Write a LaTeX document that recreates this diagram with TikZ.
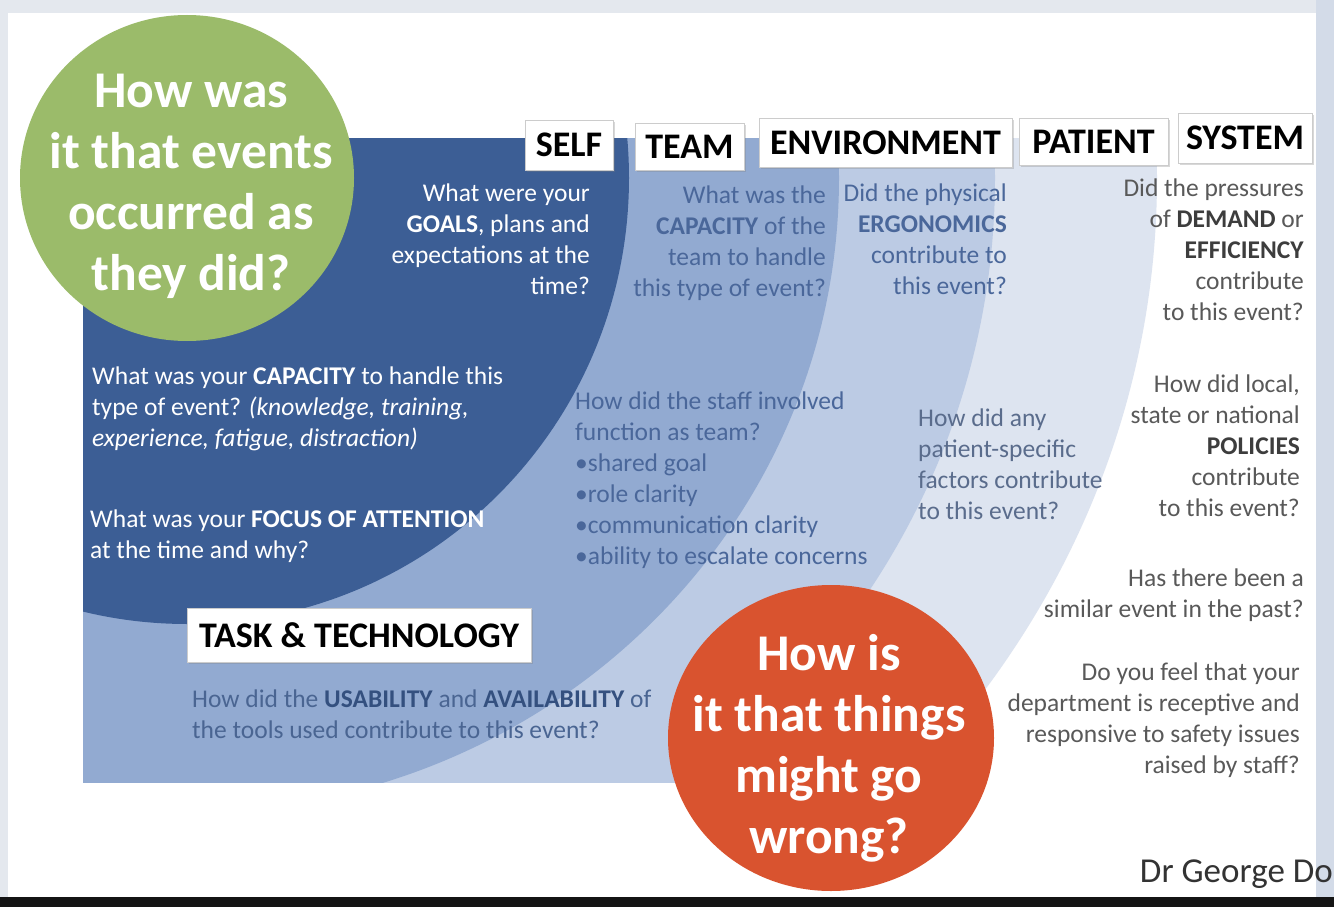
\documentclass[tikz,border=0pt]{standalone}
\usepackage{fontspec}
\setmainfont{Carlito}
\usetikzlibrary{shadows}
\definecolor{framegray}{HTML}{E4E8EE}
\definecolor{rightstrip}{HTML}{D3DBE8}
\definecolor{darkband}{HTML}{3C5E95}
\definecolor{bandtwo}{HTML}{92AAD1}
\definecolor{bandthree}{HTML}{BCCBE4}
\definecolor{bandfour}{HTML}{DDE4F0}
\definecolor{greenc}{HTML}{9BBB6A}
\definecolor{redc}{HTML}{D9532F}
\definecolor{teamtxt}{HTML}{4A679A}
\definecolor{pattxt}{HTML}{5A6C8C}
\definecolor{systxt}{HTML}{595959}
\definecolor{sysbold}{HTML}{3D3D3D}
\definecolor{tasktxt}{HTML}{4A6592}
\definecolor{taskbold}{HTML}{34507F}
\tikzset{
  hdr/.style={draw=gray!40, line width=0.6pt, fill=white, text=black,
    font=\fontsize{36}{40}\selectfont\bfseries, inner sep=0pt,
    drop shadow={shadow xshift=2pt, shadow yshift=-2pt, opacity=0.3}},
  body/.style={font=\fontsize{25.5}{31}\selectfont, inner sep=0pt},
  bigq/.style={font=\fontsize{51.5}{61}\selectfont\bfseries, text=white, align=center, inner sep=0pt}
}
\begin{document}
\begin{tikzpicture}[x=1pt,y=-1pt]
\useasboundingbox (0,0) rectangle (1334,907);
% frame and slide
\fill[framegray] (0,0) rectangle (1334,907);
\fill[white] (8,13) rectangle (1316,897);
\fill[rightstrip] (1316,0) rectangle (1334,897);
% concentric bands around the green circle centre
\begin{scope}
  \clip (83,138) rectangle (1316,782);
  \fill[bandfour]  (187,178) ellipse [x radius=970, y radius=900];
  \fill[bandthree] (187,178) ellipse [x radius=808, y radius=770];
  \fill[bandtwo]   (187,178) ellipse [x radius=652, y radius=634];
  \fill[darkband]  (187,178) ellipse [x radius=442, y radius=446];
\end{scope}
% circles
\fill[greenc] (187,178) ellipse [x radius=167, y radius=163];
\fill[redc] (831,738) ellipse [x radius=163, y radius=153];
\node[bigq] (greenq) at (191,186) {How was\\it that events\\occurred as\\they did?};
\node[bigq] (redq) at (829,748) {How is\\it that things\\might go\\wrong?};
% headers
\node[hdr, minimum width=88pt, minimum height=50pt] (self) at (569,145) {SELF};
\node[hdr, minimum width=109pt, minimum height=47pt] (team) at (689.5,146.5) {TEAM};
\node[hdr, minimum width=253pt, minimum height=49pt] (env) at (885.5,142.5) {ENVIRONMENT};
\node[hdr, minimum width=149pt, minimum height=47pt] (patient) at (1093.5,141.5) {PATIENT};
\node[hdr, minimum width=134pt, minimum height=50pt] (system) at (1245,138) {SYSTEM};
\node[hdr, minimum width=344pt, minimum height=54pt] (task) at (359,635) {TASK \& TECHNOLOGY};
% self texts
\node[body, text=white, align=right, anchor=north east] (goals) at (590,184) {What were your\\\textbf{GOALS}, plans and\\expectations at the\\time?};
\node[body, text=white, align=left, anchor=north west] (selfcap) at (92,367) {What was your \textbf{CAPACITY} to handle this\\type of event? \textit{(knowledge, training,}\\\textit{experience, fatigue, distraction)}};
\node[body, text=white, align=left, anchor=north west] (focus) at (90,510) {What was your \textbf{FOCUS OF ATTENTION}\\at the time and why?};
% team texts
\node[body, text=teamtxt, align=right, anchor=north east] (teamcap) at (826,186) {What was the\\\textbf{CAPACITY} of the\\team to handle\\this type of event?};
\node[body, text=teamtxt, align=left, anchor=north west] (teamfn) at (575,392) {How did the staff involved\\function as team?\\•shared goal\\•role clarity\\•communication clarity\\•ability to escalate concerns};
% environment
\node[body, text=teamtxt, align=right, anchor=north east] (ergo) at (1007,184) {Did the physical\\\textbf{ERGONOMICS}\\contribute to\\this event?};
% patient
\node[body, text=pattxt, align=left, anchor=north west] (patq) at (918,409) {How did any\\patient-specific\\factors contribute\\to this event?};
% system
\node[body, text=systxt, align=right, anchor=north east] (sysa) at (1304,179) {Did the pressures\\of \textcolor{sysbold}{\textbf{DEMAND}} or\\\textcolor{sysbold}{\textbf{EFFICIENCY}}\\contribute\\to this event?};
\node[body, text=systxt, align=right, anchor=north east] (sysb) at (1300,375) {How did local,\\state or national\\\textcolor{sysbold}{\textbf{POLICIES}}\\contribute\\to this event?};
\node[body, text=systxt, align=right, anchor=north east] (sysc) at (1304,569) {Has there been a\\similar event in the past?};
\node[body, text=systxt, align=right, anchor=north east] (sysd) at (1300,663) {Do you feel that your\\department is receptive and\\responsive to safety issues\\raised by staff?};
% task
\node[body, text=tasktxt, align=left, anchor=north west] (taskq) at (192,690) {How did the \textcolor{taskbold}{\textbf{USABILITY}} and \textcolor{taskbold}{\textbf{AVAILABILITY}} of\\the tools used contribute to this event?};
% author
\node[anchor=base east, inner sep=0pt, text=black!80, font=\fontsize{35}{40}\selectfont] (author) at (1333,882) {Dr George Do};
% bottom bar
\fill[black!92] (0,897) rectangle (1334,907);
\end{tikzpicture}
\end{document}
